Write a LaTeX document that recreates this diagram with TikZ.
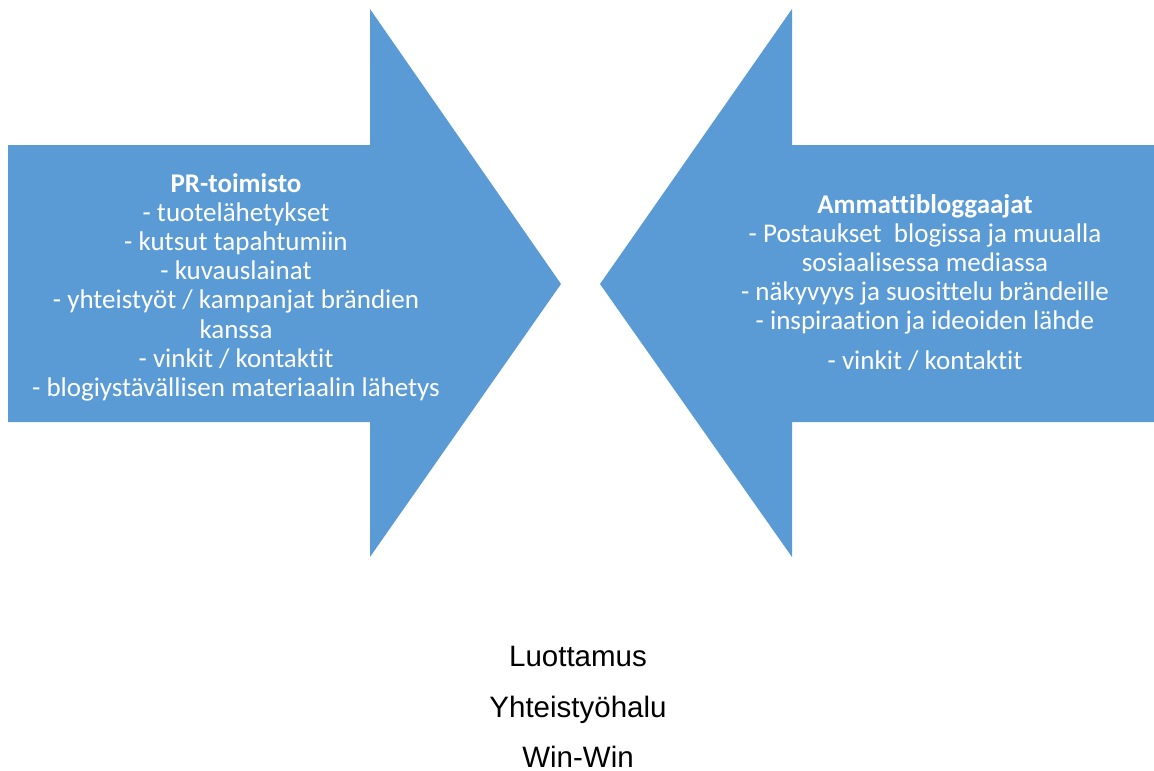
\documentclass[tikz,border=0pt]{standalone}
\usepackage{fontspec}
\setmainfont{Carlito}[Ligatures=NoCommon]
\newfontfamily\arialfont{Liberation Sans}
\usepackage{xcolor}
\definecolor{arrowblue}{HTML}{5B9BD5}

\begin{document}
\begin{tikzpicture}[
    x=1pt,
    y=-1pt,
    bigarrow/.style={
        fill=arrowblue,
        draw=none
    },
    arrowtext/.style={
        text=white,
        align=center,
        inner sep=0pt,
        anchor=north,
        font=\fontsize{27}{29.2}\selectfont
    },
    bottomtext/.style={
        anchor=base,
        inner sep=0pt,
        font=\arialfont\fontsize{29.5}{34}\selectfont
    }
]
\useasboundingbox (0,0) rectangle (1154,771);

% =========================================================
% Arrows pointing at each other
% =========================================================
\fill[bigarrow] (8,145) -- (370,145) -- (370,9) -- (561,284)
    -- (370,557) -- (370,422) -- (8,422) -- cycle;

\fill[bigarrow] (1154,145) -- (792,145) -- (792,9) -- (600,284)
    -- (792,557) -- (792,422) -- (1154,422) -- cycle;

% =========================================================
% Arrow texts
% =========================================================
\node[arrowtext] (pr) at (236,173)
{\textbf{PR-toimisto}\\
- tuotelähetykset\\
- kutsut tapahtumiin\\
- kuvauslainat\\
- yhteistyöt / kampanjat brändien\\
kanssa\\
- vinkit / kontaktit\\
- blogiystävällisen materiaalin lähetys};

\node[arrowtext] (bloggers) at (925,194)
{\textbf{Ammattibloggaajat}\\
- Postaukset\ \ blogissa ja muualla\\
sosiaalisessa mediassa\\
- näkyvyys ja suosittelu brändeille\\
- inspiraation ja ideoiden lähde\\[10pt]
- vinkit / kontaktit};

% =========================================================
% Shared values
% =========================================================
\node[bottomtext] (trust) at (578,666) {Luottamus};
\node[bottomtext] (will) at (578,717) {Yhteistyöhalu};
\node[bottomtext] (winwin) at (578,767) {Win-Win};

\end{tikzpicture}
\end{document}
